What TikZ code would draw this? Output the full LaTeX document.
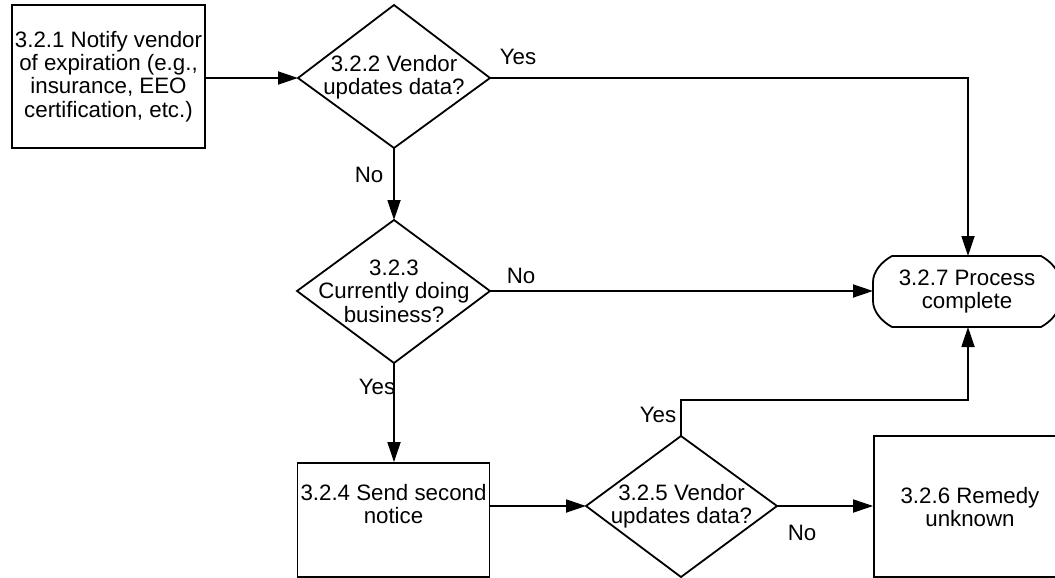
\documentclass[tikz,border=0pt]{standalone}
\usepackage{fontspec}
\setmainfont{Liberation Sans}
\usetikzlibrary{arrows.meta}
\begin{document}
\begin{tikzpicture}[x=1pt,y=-1pt,
  every node/.style={font=\fontsize{22.3}{23.4}\selectfont, inner sep=0pt, align=center},
  procbox/.style={draw, line width=1.8pt, rectangle},
  outline/.style={line width=1.8pt, line join=miter},
  conn/.style={line width=1.8pt, -{Triangle[length=20pt,width=13pt]}},
  lbl/.style={anchor=base}]
\useasboundingbox (0,0) rectangle (1055,578);
\clip (0,0) rectangle (1055,578);
% process boxes
\node[procbox, minimum width=193pt, minimum height=143pt] (n1) at (108.5,76.5) {3.2.1 Notify vendor\\of expiration (e.g.,\\insurance, EEO\\certification, etc.)};
\node[procbox, minimum width=192pt, minimum height=114pt] (n4) at (393.5,520) {};
\node (n4t) at (393.5,504) {3.2.4 Send second\\notice};
\node[procbox, minimum width=192pt, minimum height=141pt] (n6) at (970,506.5) {};
\node (n6t) at (970,507) {3.2.6 Remedy\\unknown};
% decisions (text nodes + diamond outlines)
\node (d2) at (394,77) {3.2.2 Vendor\\updates data?};
\coordinate (d2n) at (394,5); \coordinate (d2s) at (394,148);
\coordinate (d2w) at (298,78); \coordinate (d2e) at (490,78);
\draw[outline] (d2n) -- (d2e) -- (d2s) -- (d2w) -- cycle;
\node (d3) at (394,291) {3.2.3\\Currently doing\\business?};
\coordinate (d3n) at (394,220); \coordinate (d3s) at (394,363);
\coordinate (d3w) at (297,291); \coordinate (d3e) at (490,291);
\draw[outline] (d3n) -- (d3e) -- (d3s) -- (d3w) -- cycle;
\node (d5) at (681.5,506) {3.2.5 Vendor\\updates data?};
\coordinate (d5n) at (681,436); \coordinate (d5s) at (681,577);
\coordinate (d5w) at (586,506); \coordinate (d5e) at (777,506);
\draw[outline] (d5n) -- (d5e) -- (d5s) -- (d5w) -- cycle;
% terminal
\node (t7) at (967,291.5) {3.2.7 Process\\complete};
\draw[outline] (892,256) -- (1041,256) .. controls (1052,262) and (1060,272) .. (1060,282)
  -- (1060,301) .. controls (1060,311) and (1052,321) .. (1041,327)
  -- (892,327) .. controls (881,321) and (873,311) .. (873,301)
  -- (873,282) .. controls (873,272) and (881,262) .. (892,256) -- cycle;
\coordinate (t7top) at (968,256);
\coordinate (t7bot) at (968,327);
\coordinate (t7left) at (873,291);
% connectors
\draw[conn] (n1.east |- d2w) -- (d2w);
\draw[conn] (d2e) -| (t7top);
\draw[conn] (d2s) -- (d3n);
\draw[conn] (d3e) -- (t7left);
\draw[conn] (d3s) -- (n4.north -| d3s);
\draw[conn] (n4.east |- d5w) -- (d5w);
\coordinate (yescorner) at (681,400);
\draw[conn] (d5n) -- (yescorner) -| (t7bot);
\draw[conn] (d5e) -- (n6.west |- d5e);
% labels
\node[lbl] (l1) at (518,65) {Yes};
\node[lbl] (l2) at (369,182) {No};
\node[lbl] (l3) at (521,283) {No};
\node[lbl] (l4) at (377,394) {Yes};
\node[lbl] (l5) at (658,422) {Yes};
\node[lbl] (l6) at (802,540) {No};
\end{tikzpicture}
\end{document}
